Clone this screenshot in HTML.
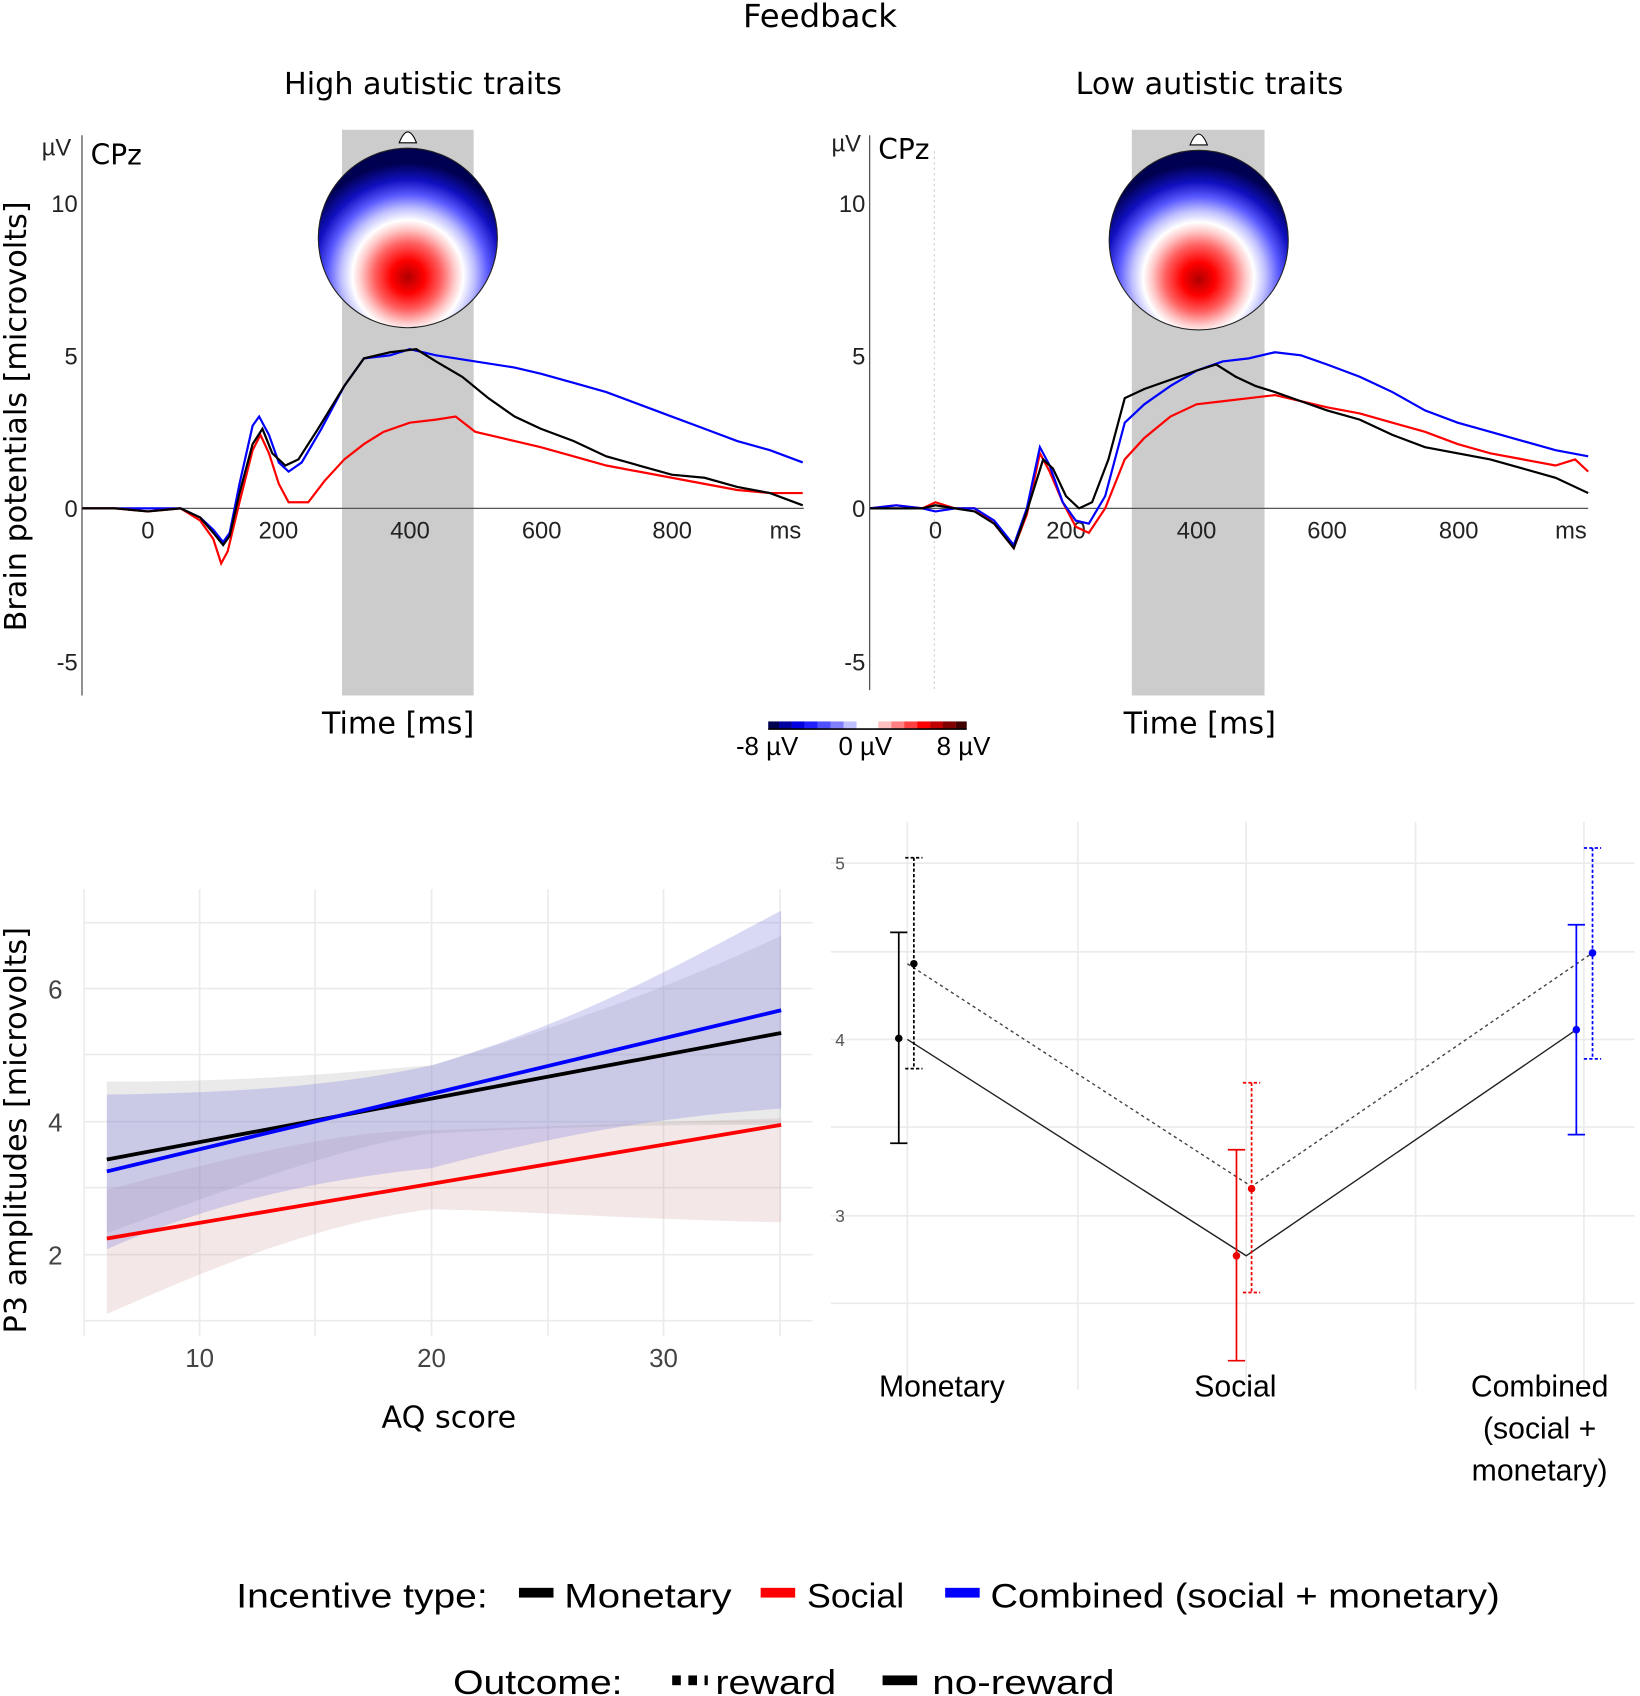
<!DOCTYPE html>
<html><head><meta charset="utf-8"><style>
html,body{margin:0;padding:0;background:#fff;}
svg{display:block;}
text{font-family:"Liberation Sans",sans-serif;}
.c{font-family:"DejaVu Sans","Liberation Sans",sans-serif;}
</style></head><body>
<svg width="1640" height="1696" viewBox="0 0 1520 1568" preserveAspectRatio="none" xmlns="http://www.w3.org/2000/svg">
<defs>
<radialGradient id="topo" cx="0.5" cy="0.7" r="0.62" fx="0.5" fy="0.72">
<stop offset="0" stop-color="#b00000"/>
<stop offset="0.15" stop-color="#ff0000"/>
<stop offset="0.3" stop-color="#ff6060"/>
<stop offset="0.42" stop-color="#ffc8c8"/>
<stop offset="0.5" stop-color="#ffffff"/>
<stop offset="0.6" stop-color="#c0c0ff"/>
<stop offset="0.72" stop-color="#5a5aff"/>
<stop offset="0.85" stop-color="#1010c0"/>
<stop offset="1" stop-color="#000050"/>
</radialGradient>
</defs>
<text x="760" y="25" font-size="30" text-anchor="middle" class="c">Feedback</text>
<text x="392" y="87" font-size="28" text-anchor="middle" class="c">High autistic traits</text>
<text x="1121" y="87" font-size="28" text-anchor="middle" class="c">Low autistic traits</text>
<text x="0" y="0" font-size="28" class="c" transform="translate(24,385) rotate(-90)" text-anchor="middle">Brain potentials [microvolts]</text>

<!-- Left ERP -->
<rect x="317" y="120" width="122" height="523" fill="#cccccc"/>
<path d="M370 132 Q378 112 386 132 Z" fill="#fff" stroke="#000"/>
<circle cx="378" cy="220" r="83" fill="url(#topo)" stroke="#222" stroke-width="1"/>
<line x1="76" y1="125" x2="76" y2="643" stroke="#555" stroke-width="1.2"/>
<line x1="76" y1="470" x2="745" y2="470" stroke="#555" stroke-width="1.2"/>
<g font-size="22" fill="#222" text-anchor="end">
<text x="72" y="196">10</text><text x="72" y="337">5</text><text x="72" y="478">0</text><text x="72" y="620">-5</text>
<text x="66" y="144">µV</text></g>
<text x="84" y="152" font-size="26" class="c">CPz</text>
<g font-size="22" fill="#222" text-anchor="middle">
<text x="137" y="498">0</text><text x="258" y="498">200</text><text x="380" y="498">400</text><text x="502" y="498">600</text><text x="623" y="498">800</text><text x="728" y="498">ms</text></g>
<text x="369" y="678" font-size="28" text-anchor="middle" class="c">Time [ms]</text>
<g transform="translate(137,470) scale(0.607,-28.3)" fill="none" stroke-width="2.2">
<path vector-effect="non-scaling-stroke" stroke="#00f" d="M-100 0 L-50 0 L0 0 L50 0 L80 -0.3 L100 -0.7 L115 -1.1 L125 -0.8 L140 0.8 L160 2.7 L170 3.0 L185 2.4 L200 1.5 L215 1.2 L235 1.5 L265 2.6 L300 4.0 L330 4.9 L370 5.0 L400 5.2 L440 5.0 L500 4.8 L560 4.6 L600 4.4 L650 4.1 L700 3.8 L750 3.4 L800 3.0 L850 2.6 L900 2.2 L950 1.9 L1000 1.5"/>
<path vector-effect="non-scaling-stroke" stroke="#f00" d="M-100 0 L-50 0 L0 -0.1 L50 0 L80 -0.4 L100 -1.0 L112 -1.8 L122 -1.4 L140 0.2 L160 1.9 L172 2.4 L185 1.8 L200 0.8 L215 0.2 L245 0.2 L270 0.9 L300 1.6 L330 2.1 L360 2.5 L400 2.8 L440 2.9 L470 3.0 L500 2.5 L540 2.3 L600 2.0 L650 1.7 L700 1.4 L750 1.2 L800 1.0 L850 0.8 L900 0.6 L950 0.5 L1000 0.5"/>
<path vector-effect="non-scaling-stroke" stroke="#000" d="M-100 0 L-50 0 L0 -0.1 L50 0 L80 -0.3 L100 -0.8 L115 -1.2 L125 -0.9 L140 0.5 L160 2.1 L175 2.6 L190 1.8 L210 1.4 L230 1.6 L260 2.6 L300 4.0 L330 4.9 L370 5.1 L410 5.2 L440 4.8 L480 4.3 L520 3.6 L560 3.0 L600 2.6 L650 2.2 L700 1.7 L750 1.4 L800 1.1 L850 1.0 L900 0.7 L950 0.5 L1000 0.1"/>
</g>

<!-- Right ERP -->
<rect x="1049" y="120" width="123" height="523" fill="#cccccc"/>
<path d="M1103 134 Q1111 114 1119 134 Z" fill="#fff" stroke="#000"/>
<circle cx="1111" cy="222" r="83" fill="url(#topo)" stroke="#222" stroke-width="1"/>
<line x1="806" y1="125" x2="806" y2="638" stroke="#555" stroke-width="1.2"/>
<line x1="866" y1="140" x2="866" y2="638" stroke="#ccc" stroke-width="1" stroke-dasharray="2,3"/>
<line x1="806" y1="470" x2="1472" y2="470" stroke="#555" stroke-width="1.2"/>
<g font-size="22" fill="#222" text-anchor="end">
<text x="802" y="196">10</text><text x="802" y="337">5</text><text x="802" y="478">0</text><text x="802" y="620">-5</text>
<text x="798" y="140">µV</text></g>
<text x="814" y="147" font-size="26" class="c">CPz</text>
<g font-size="22" fill="#222" text-anchor="middle">
<text x="867" y="498">0</text><text x="988" y="498">200</text><text x="1109" y="498">400</text><text x="1230" y="498">600</text><text x="1352" y="498">800</text><text x="1456" y="498">ms</text></g>
<text x="1112" y="678" font-size="28" text-anchor="middle" class="c">Time [ms]</text>
<g transform="translate(867,470) scale(0.605,-28.3)" fill="none" stroke-width="2.2">
<path vector-effect="non-scaling-stroke" stroke="#f00" d="M-100 0 L-60 0.1 L-20 0 L0 0.2 L30 0 L60 0 L90 -0.5 L120 -1.3 L140 -0.2 L160 1.8 L175 1.2 L195 0.2 L215 -0.6 L235 -0.8 L260 0 L290 1.6 L320 2.3 L360 3.0 L400 3.4 L440 3.5 L480 3.6 L520 3.7 L560 3.5 L600 3.3 L650 3.1 L700 2.8 L750 2.5 L800 2.1 L850 1.8 L900 1.6 L950 1.4 L980 1.6 L1000 1.2"/>
<path vector-effect="non-scaling-stroke" stroke="#00f" d="M-100 0 L-60 0.1 L-20 0 L0 -0.1 L30 0 L60 0 L90 -0.4 L120 -1.2 L140 0 L160 2.0 L175 1.4 L195 0.2 L215 -0.4 L235 -0.5 L260 0.4 L290 2.8 L320 3.4 L360 4.0 L400 4.5 L440 4.8 L480 4.9 L520 5.1 L560 5.0 L600 4.7 L650 4.3 L700 3.8 L750 3.2 L800 2.8 L850 2.5 L900 2.2 L950 1.9 L1000 1.7"/>
<path vector-effect="non-scaling-stroke" stroke="#000" d="M-100 0 L-60 0 L-20 0 L0 0.1 L30 0 L60 -0.1 L90 -0.5 L120 -1.3 L140 -0.1 L165 1.6 L180 1.3 L200 0.4 L220 0 L240 0.2 L265 1.6 L290 3.6 L320 3.9 L360 4.2 L400 4.5 L430 4.7 L460 4.3 L490 4.0 L520 3.8 L560 3.5 L600 3.2 L650 2.9 L700 2.4 L750 2.0 L800 1.8 L850 1.6 L900 1.3 L950 1.0 L1000 0.5"/>
</g>

<!-- colorbar -->
<g>
<rect x="712" y="667" width="10" height="7" fill="#000050"/><rect x="722" y="667" width="12" height="7" fill="#0000a0"/><rect x="734" y="667" width="12" height="7" fill="#0000e0"/><rect x="746" y="667" width="12" height="7" fill="#2020ff"/><rect x="758" y="667" width="12" height="7" fill="#5050ff"/><rect x="770" y="667" width="12" height="7" fill="#8080ff"/><rect x="782" y="667" width="12" height="7" fill="#c0c0ff"/><rect x="794" y="667" width="20" height="7" fill="#fff"/>
<rect x="814" y="667" width="12" height="7" fill="#ffc0c0"/><rect x="826" y="667" width="12" height="7" fill="#ff8080"/><rect x="838" y="667" width="12" height="7" fill="#ff4040"/><rect x="850" y="667" width="12" height="7" fill="#ff0000"/><rect x="862" y="667" width="12" height="7" fill="#c00000"/><rect x="874" y="667" width="12" height="7" fill="#800000"/><rect x="886" y="667" width="10" height="7" fill="#400000"/>
<line x1="712" y1="674" x2="896" y2="674" stroke="#000" stroke-width="1.5"/>
</g>
<g font-size="24" text-anchor="middle"><text x="711" y="698">-8 µV</text><text x="802" y="698">0 µV</text><text x="893" y="698">8 µV</text></g>

<!-- Bottom-left regression -->
<g stroke="#ebebeb" stroke-width="1.5">
<line x1="78" y1="853" x2="753" y2="853"/><line x1="78" y1="914" x2="753" y2="914"/><line x1="78" y1="975" x2="753" y2="975"/><line x1="78" y1="1037" x2="753" y2="1037"/><line x1="78" y1="1098" x2="753" y2="1098"/><line x1="78" y1="1160" x2="753" y2="1160"/><line x1="78" y1="1221" x2="753" y2="1221"/>
<line x1="78" y1="822" x2="78" y2="1235"/><line x1="185" y1="822" x2="185" y2="1235"/><line x1="292" y1="822" x2="292" y2="1235"/><line x1="400" y1="822" x2="400" y2="1235"/><line x1="508" y1="822" x2="508" y2="1235"/><line x1="615" y1="822" x2="615" y2="1235"/><line x1="723" y1="822" x2="723" y2="1235"/>
</g>
<path d="M99 1100 C250 1060 330 1045 400 1045 C550 1040 650 1036 724 1034 L724 1130 C600 1128 500 1120 400 1118 C300 1130 200 1170 99 1215 Z" fill="#c89090" fill-opacity="0.22"/>
<path d="M99 1000 C250 1000 330 990 400 985 C550 940 650 900 724 865 L724 1040 C650 1040 550 1040 400 1048 C330 1058 250 1085 99 1140 Z" fill="#a0a0a0" fill-opacity="0.22"/>
<path d="M99 1012 C250 1010 330 1000 400 985 C550 940 650 880 724 842 L724 1025 C650 1030 550 1040 400 1080 C300 1090 200 1110 99 1155 Z" fill="#8080e0" fill-opacity="0.3"/>
<line x1="99" y1="1072" x2="724" y2="955" stroke="#000" stroke-width="3.5"/>
<line x1="99" y1="1083" x2="724" y2="934" stroke="#00f" stroke-width="3.5"/>
<line x1="99" y1="1145" x2="724" y2="1040" stroke="#f00" stroke-width="3.5"/>
<g font-size="24" fill="#444" text-anchor="end"><text x="58" y="923">6</text><text x="58" y="1046">4</text><text x="58" y="1169">2</text></g>
<g font-size="24" fill="#444" text-anchor="middle"><text x="185" y="1264">10</text><text x="400" y="1264">20</text><text x="615" y="1264">30</text></g>
<text x="416" y="1320" font-size="28" text-anchor="middle" class="c">AQ score</text>
<text font-size="28" class="c" transform="translate(24,1045) rotate(-90)" text-anchor="middle">P3 amplitudes [microvolts]</text>

<!-- Bottom-right interaction -->
<g stroke="#ebebeb" stroke-width="1.5">
<line x1="770" y1="798" x2="1515" y2="798"/><line x1="770" y1="880" x2="1515" y2="880"/><line x1="770" y1="961" x2="1515" y2="961"/><line x1="770" y1="1042" x2="1515" y2="1042"/><line x1="770" y1="1124" x2="1515" y2="1124"/><line x1="770" y1="1205" x2="1515" y2="1205"/>
<line x1="841" y1="760" x2="841" y2="1285"/><line x1="999" y1="760" x2="999" y2="1285"/><line x1="1155" y1="760" x2="1155" y2="1285"/><line x1="1312" y1="760" x2="1312" y2="1285"/><line x1="1468" y1="760" x2="1468" y2="1285"/>
</g>
<g font-size="16" fill="#555" text-anchor="end"><text x="783" y="804">5</text><text x="783" y="967">4</text><text x="783" y="1130">3</text></g>
<polyline points="841,961 1155,1161 1461,952" fill="none" stroke="#222" stroke-width="1.3"/>
<polyline points="841,891 1160,1097 1476,881" fill="none" stroke="#444" stroke-width="1.3" stroke-dasharray="3,3"/>
<g stroke-width="1.6">
<line x1="833" y1="862" x2="833" y2="1057" stroke="#000"/><line x1="825" y1="862" x2="841" y2="862" stroke="#000"/><line x1="825" y1="1057" x2="841" y2="1057" stroke="#000"/>
<line x1="847" y1="793" x2="847" y2="988" stroke="#000" stroke-dasharray="3,2"/><line x1="839" y1="793" x2="855" y2="793" stroke="#000" stroke-dasharray="3,2"/><line x1="839" y1="988" x2="855" y2="988" stroke="#000" stroke-dasharray="3,2"/>
<line x1="1146" y1="1063" x2="1146" y2="1258" stroke="#e00"/><line x1="1138" y1="1063" x2="1154" y2="1063" stroke="#e00"/><line x1="1138" y1="1258" x2="1154" y2="1258" stroke="#e00"/>
<line x1="1160" y1="1001" x2="1160" y2="1195" stroke="#e00" stroke-dasharray="3,2"/><line x1="1152" y1="1001" x2="1168" y2="1001" stroke="#e00" stroke-dasharray="3,2"/><line x1="1152" y1="1195" x2="1168" y2="1195" stroke="#e00" stroke-dasharray="3,2"/>
<line x1="1461" y1="855" x2="1461" y2="1049" stroke="#00f"/><line x1="1453" y1="855" x2="1469" y2="855" stroke="#00f"/><line x1="1453" y1="1049" x2="1469" y2="1049" stroke="#00f"/>
<line x1="1476" y1="784" x2="1476" y2="979" stroke="#00f" stroke-dasharray="3,2"/><line x1="1468" y1="784" x2="1484" y2="784" stroke="#00f" stroke-dasharray="3,2"/><line x1="1468" y1="979" x2="1484" y2="979" stroke="#00f" stroke-dasharray="3,2"/>
</g>
<circle cx="833" cy="960" r="3.5"/><circle cx="847" cy="891" r="3.5"/>
<circle cx="1146" cy="1161" r="3.5" fill="#e00"/><circle cx="1160" cy="1099" r="3.5" fill="#e00"/>
<circle cx="1461" cy="952" r="3.5" fill="#00f"/><circle cx="1476" cy="881" r="3.5" fill="#00f"/>
<g font-size="28" text-anchor="middle" class="c">
<text x="873" y="1291">Monetary</text><text x="1145" y="1291">Social</text>
<text x="1427" y="1291">Combined</text><text x="1427" y="1330">(social +</text><text x="1427" y="1369">monetary)</text></g>

<!-- Legends -->
<g font-size="32" class="c">
<text x="219" y="1486" textLength="233" lengthAdjust="spacingAndGlyphs">Incentive type:</text>
<rect x="481" y="1468" width="32" height="9" fill="#000"/><text x="523" y="1486" textLength="155" lengthAdjust="spacingAndGlyphs">Monetary</text>
<rect x="705" y="1468" width="32" height="9" fill="#f00"/><text x="748" y="1486" textLength="90" lengthAdjust="spacingAndGlyphs">Social</text>
<rect x="876" y="1468" width="32" height="9" fill="#00f"/><text x="918" y="1486" textLength="472" lengthAdjust="spacingAndGlyphs">Combined (social + monetary)</text>
<text x="420" y="1566" textLength="157" lengthAdjust="spacingAndGlyphs">Outcome:</text>
<rect x="623" y="1549" width="8" height="9" fill="#000"/><rect x="638" y="1549" width="8" height="9" fill="#000"/><rect x="653" y="1549" width="3" height="9" fill="#000"/>
<text x="663" y="1566" textLength="112" lengthAdjust="spacingAndGlyphs">reward</text>
<rect x="818" y="1549" width="32" height="9" fill="#000"/><text x="864" y="1566" textLength="169" lengthAdjust="spacingAndGlyphs">no-reward</text>
</g>
</svg>
</body></html>
